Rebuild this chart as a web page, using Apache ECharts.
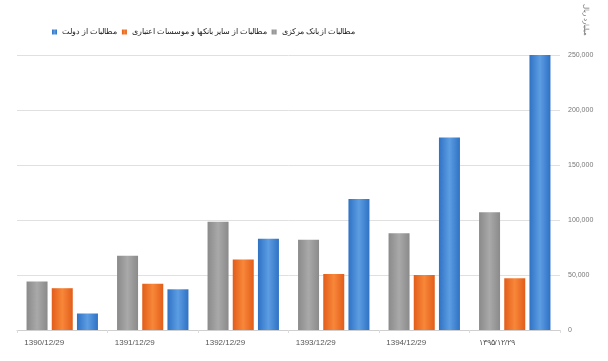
<!DOCTYPE html>
<html>
<head>
<meta charset="utf-8">
<style>
html, body { margin: 0; padding: 0; background: #fff; }
#main { width: 608px; height: 361px; }
</style>
<script src="https://cdn.jsdelivr.net/npm/echarts@6/dist/echarts.min.js"></script>
</head>
<body>
<div id="main"></div>
<script>
// داده‌ها
var categories = ['1390/12/29', '1391/12/29', '1392/12/29', '1393/12/29', '1394/12/29', '۱۳۹۵/۱۲/۲۹'];
var bankMarkazi = [44000, 67500, 98500, 82000, 88000, 107000];
var sayerBankha = [38000, 42000, 64000, 51000, 50000, 47000];
var dolat = [15000, 37000, 83000, 119000, 175000, 250000];
var yTicks = [0, 50000, 100000, 150000, 200000, 250000];

var names = ['مطالبات از بانک مرکزی', 'مطالبات از سایر بانکها و موسسات اعتباری', 'مطالبات از دولت'];

function grad(edge, mid) {
    return new echarts.graphic.LinearGradient(0, 0, 1, 0, [
        { offset: 0, color: edge },
        { offset: 0.5, color: mid },
        { offset: 1, color: edge }
    ]);
}

var myChart = echarts.init(document.getElementById('main'));

var option = {
    backgroundColor: '#fff',
    animation: false,
    legend: {
        data: [names[2], names[1], names[0]],
        left: 47,
        top: 23,
        itemWidth: 5,
        itemHeight: 5,
        itemGap: 5,
        icon: 'rect',
        textStyle: { fontSize: 7.5, color: '#222', fontFamily: 'Noto Sans' }
    },
    grid: { left: 17, right: 48, top: 55, bottom: 31 },
    xAxis: {
        type: 'category',
        data: categories,
        axisLine: { lineStyle: { color: '#cfcfcf' } },
        axisTick: { show: true, lineStyle: { color: '#dcdcdc' }, length: 3 },
        axisLabel: { fontSize: 8, color: '#555', margin: 9, padding: [0, 36, 0, 0] }
    },
    yAxis: {
        type: 'value',
        position: 'right',
        min: yTicks[0],
        max: yTicks[yTicks.length - 1],
        interval: yTicks[1] - yTicks[0],
        axisLine: { show: false },
        axisTick: { show: false },
        splitLine: { lineStyle: { color: '#e0e0e0' } },
        axisLabel: {
            fontSize: 7,
            color: '#777',
            margin: 8,
            formatter: function (v) { return v.toLocaleString('en-US'); }
        }
    },
    graphic: [{
        type: 'text',
        x: 589,
        y: 4,
        rotation: -Math.PI / 2,
        style: { text: 'میلیارد ریال', fontSize: 7, fill: '#777', fontFamily: 'Noto Sans' }
    }],
    series: [{
        name: names[0],
        type: 'bar',
        data: bankMarkazi,
        barWidth: 21,
        barGap: '20%',
        itemStyle: { color: grad('#8a8a8a', '#a9a9a9') }
    }, {
        name: names[1],
        type: 'bar',
        data: sayerBankha,
        barWidth: 21,
        itemStyle: { color: grad('#e25d1a', '#f8873a') }
    }, {
        name: names[2],
        type: 'bar',
        data: dolat,
        barWidth: 21,
        itemStyle: { color: grad('#2f72c4', '#5c9de2') }
    }]
};

myChart.setOption(option);
</script>
</body>
</html>
